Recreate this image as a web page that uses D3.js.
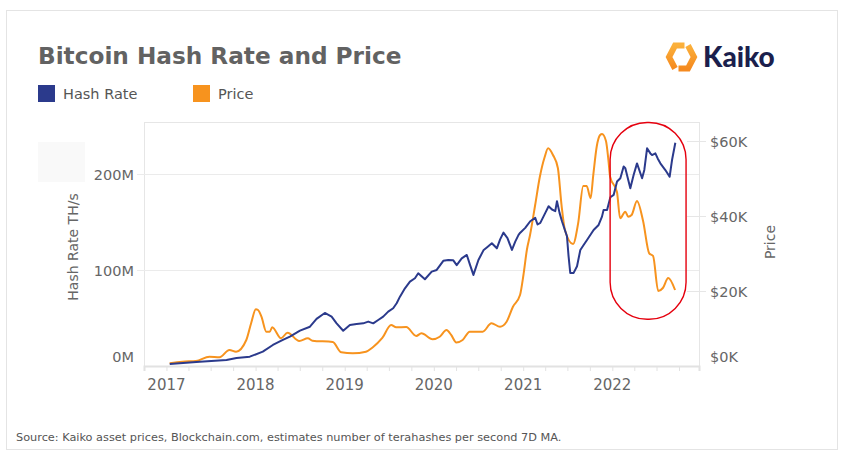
<!DOCTYPE html>
<html>
<head>
<meta charset="utf-8">
<script src="https://cdn.jsdelivr.net/npm/d3@7"></script>
<style>
  html, body { margin: 0; padding: 0; background: #fff; }
  svg { display: block; font-family: "DejaVu Sans", sans-serif; }
</style>
</head>
<body>
<svg id="chart" width="847" height="461"></svg>
<script>
// ---------- data ----------
// hash rate: [decimal year, millions of TH/s (7D MA)]
const hashRate = [
  [2017.037, 2.1], [2017.374, 4.5], [2017.674, 6.3], [2017.786, 8.3], [2017.935, 9.7],
  [2018.081, 14.9], [2018.194, 21.9], [2018.306, 27.1], [2018.385, 30.5], [2018.498, 36.8],
  [2018.610, 40.9], [2018.684, 49.0], [2018.777, 55.2], [2018.853, 51.4], [2018.909, 44.4],
  [2018.983, 36.7], [2019.058, 42.7], [2019.133, 43.7], [2019.208, 44.4], [2019.264, 46.2],
  [2019.320, 44.4], [2019.376, 47.9], [2019.432, 51.4], [2019.488, 56.6], [2019.544, 60.1],
  [2019.583, 65.3], [2019.620, 72.2], [2019.676, 80.9], [2019.732, 87.8], [2019.788, 91.3],
  [2019.825, 96.5], [2019.900, 90.3], [2019.976, 98.2], [2020.032, 100.0], [2020.106, 109.5],
  [2020.162, 110.3], [2020.218, 110.0], [2020.256, 105.0], [2020.312, 112.1], [2020.369, 115.6],
  [2020.406, 105.0], [2020.443, 94.8], [2020.499, 110.3], [2020.555, 120.4], [2020.593, 123.3],
  [2020.649, 127.7], [2020.705, 122.5], [2020.742, 131.8], [2020.779, 138.8], [2020.824, 133.2],
  [2020.874, 120.8], [2020.911, 129.5], [2020.948, 136.5], [2020.967, 138.8], [2021.023, 143.8],
  [2021.079, 150.7], [2021.135, 154.2], [2021.161, 147.3], [2021.192, 149.0], [2021.248, 159.4],
  [2021.285, 166.3], [2021.323, 162.9], [2021.360, 161.2], [2021.379, 171.6], [2021.408, 159.4],
  [2021.435, 150.7], [2021.491, 135.1], [2021.509, 114.3], [2021.528, 96.9], [2021.566, 96.9],
  [2021.604, 103.8], [2021.641, 120.8], [2021.678, 126.0], [2021.716, 131.2], [2021.753, 136.4],
  [2021.790, 141.6], [2021.846, 146.8], [2021.884, 155.5], [2021.902, 162.5], [2021.941, 162.5],
  [2021.978, 175.7], [2022.015, 178.1], [2022.053, 192.0], [2022.090, 195.4], [2022.127, 207.6],
  [2022.146, 205.8], [2022.202, 185.0], [2022.239, 198.9], [2022.277, 210.9], [2022.334, 195.4],
  [2022.359, 204.1], [2022.390, 226.6], [2022.427, 221.3], [2022.446, 219.6], [2022.483, 221.3],
  [2022.509, 216.1], [2022.539, 211.0], [2022.595, 204.0], [2022.643, 197.0], [2022.670, 214.4],
  [2022.707, 232.4]
];

// price: [date, BTC price in USD (7D MA)]
const price = [
  ["2017-01-14", 720], ["2017-03-07", 1150], ["2017-05-02", 1330], ["2017-06-26", 2480],
  ["2017-08-06", 2320], ["2017-09-16", 4270], ["2017-10-13", 3810], ["2017-11-24", 6930],
  ["2017-12-14", 11470], ["2018-01-02", 15120], ["2018-01-11", 14930], ["2018-01-25", 13150],
  ["2018-02-14", 9150], ["2018-02-28", 9150], ["2018-03-10", 10320], ["2018-04-15", 7390],
  ["2018-05-12", 8880], ["2018-06-29", 6670], ["2018-08-03", 7390], ["2018-08-22", 6750],
  ["2018-11-13", 6400], ["2018-12-18", 3650], ["2019-02-03", 3390], ["2019-03-29", 3810],
  ["2019-04-24", 4880], ["2019-06-04", 7470], ["2019-07-10", 10930], ["2019-07-31", 10320],
  ["2019-09-10", 10400], ["2019-10-21", 8000], ["2019-11-11", 8720], ["2019-12-27", 7120],
  ["2020-01-25", 7810], ["2020-02-22", 9600], ["2020-03-12", 8270], ["2020-04-02", 6270],
  ["2020-04-28", 6930], ["2020-05-27", 9150], ["2020-07-19", 9150], ["2020-08-24", 11390],
  ["2020-09-28", 10480], ["2020-10-25", 11810], ["2020-11-20", 15810], ["2020-12-19", 18930],
  ["2021-01-02", 24270], ["2021-01-16", 30930], ["2021-01-29", 34930], ["2021-02-19", 42930],
  ["2021-03-10", 50400], ["2021-03-30", 55730], ["2021-04-13", 58050], ["2021-05-03", 56270],
  ["2021-05-23", 52800], ["2021-06-07", 42930], ["2021-06-21", 36270], ["2021-07-24", 32530],
  ["2021-08-14", 38050], ["2021-09-04", 48000], ["2021-09-18", 48000], ["2021-10-04", 44720],
  ["2021-10-15", 50930], ["2021-10-29", 58480], ["2021-11-12", 61600], ["2021-11-20", 61870],
  ["2021-12-06", 60000], ["2021-12-16", 54930], ["2021-12-23", 50480], ["2022-01-20", 46400],
  ["2022-02-02", 39390], ["2022-02-23", 41150], ["2022-03-07", 39810], ["2022-03-21", 40270],
  ["2022-04-12", 44000], ["2022-05-07", 38670], ["2022-06-01", 30050], ["2022-06-17", 29330],
  ["2022-07-08", 20000], ["2022-07-27", 20800], ["2022-08-18", 23470], ["2022-09-15", 20270]
];

const yearTicks = [2017, 2018, 2019, 2020, 2021, 2022];
const hashTicks = [0, 100, 200];          // millions TH/s
const hashTickLabels = ["0M", "100M", "200M"];
const priceTicks = [0, 20000, 40000, 60000];
const priceTickLabels = ["$0K", "$20K", "$40K", "$60K"];
const seriesNames = ["Hash Rate", "Price"];
const seriesColors = ["#2b3a8c", "#f7931e"];
const highlightWindow = ["2021-12-23", "2022-10-30"]; // red annotation (date span)
const highlightPriceFloor = 12450;

// ---------- helpers ----------
const parse = d3.timeParse("%Y-%m-%d");
function fromDecimalYear(v) {
  const yr = Math.floor(v);
  const s = new Date(yr, 0, 1).getTime(), e = new Date(yr + 1, 0, 1).getTime();
  return new Date(s + (v - yr) * (e - s));
}

// ---------- layout ----------
const svg = d3.select("#chart");
const plot = { left: 144, right: 699, top: 122, bottom: 366 };

const x = d3.scaleTime()
  .domain([parse("2016-10-01"), parse("2022-12-22")])
  .range([plot.left, plot.right]);
const yHash = d3.scaleLinear().domain([0, 254]).range([plot.bottom, plot.top]);
const yPrice = d3.scaleLinear().domain([0, 65070]).range([plot.bottom, plot.top]);

// outer card
svg.append("rect").attr("x", 6.5).attr("y", 10.5).attr("width", 831).attr("height", 439)
  .attr("fill", "#fff").attr("stroke", "#e4e4e4").attr("stroke-width", 1);

// title
svg.append("text").attr("x", 38).attr("y", 64)
  .attr("font-size", 23.2).attr("font-weight", "bold").attr("fill", "#626262")
  .text("Bitcoin Hash Rate and Price");

// legend
const legendX = [38, 193];
seriesNames.forEach((n, i) => {
  svg.append("rect").attr("x", legendX[i]).attr("y", 85).attr("width", 17).attr("height", 17)
    .attr("fill", seriesColors[i]);
  svg.append("text").attr("x", legendX[i] + 25).attr("y", 99)
    .attr("font-size", 14.5).attr("fill", "#555").text(n);
});

// logo
const defs = svg.append("defs");
const grad = defs.append("linearGradient").attr("id", "kg").attr("x1", "0").attr("y1", "0").attr("x2", "0").attr("y2", "1");
grad.append("stop").attr("offset", "0%").attr("stop-color", "#fbb03b");
grad.append("stop").attr("offset", "100%").attr("stop-color", "#f58a1f");
const logo = svg.append("g").attr("transform", "translate(681.5,57)");
logo.append("path").attr("d", "M3,-11.5 L-6.5,-11.5 L-12.5,0 L-6.5,11.5")
  .attr("fill", "none").attr("stroke", "url(#kg)").attr("stroke-width", 6).attr("stroke-linejoin", "miter");
logo.append("path").attr("d", "M-3,11.5 L6.5,11.5 L12.5,0 L6.5,-11.5")
  .attr("fill", "none").attr("stroke", "url(#kg)").attr("stroke-width", 6).attr("stroke-linejoin", "miter");
svg.append("text").attr("x", 703).attr("y", 67)
  .attr("font-family", "Lato, sans-serif").attr("font-weight", 900).attr("font-size", 28)
  .attr("fill", "#1b1f4d").text("Kaiko");

// faint artifact block
svg.append("rect").attr("x", 38).attr("y", 142).attr("width", 47).attr("height", 40).attr("fill", "#f9f9f9");

// plot frame
svg.append("rect").attr("x", plot.left + 0.5).attr("y", plot.top + 0.5)
  .attr("width", plot.right - plot.left).attr("height", plot.bottom - plot.top)
  .attr("fill", "none").attr("stroke", "#e6e6e6");

// left grid + ticks
const gLeft = svg.append("g");
hashTicks.forEach((t, i) => {
  const yy = Math.round(yHash(t)) + 0.5;
  if (t > 0) {
    gLeft.append("line").attr("x1", plot.left - 7).attr("x2", plot.right).attr("y1", yy).attr("y2", yy)
      .attr("stroke", "#ebebeb");
  }
  gLeft.append("text").attr("x", 134).attr("y", t === 0 ? yy - 10 : yy)
    .attr("dy", "0.35em").attr("text-anchor", "end")
    .attr("font-size", 14.5).attr("fill", "#666").text(hashTickLabels[i]);
});

// right ticks
const gRight = svg.append("g");
priceTicks.forEach((t, i) => {
  const yy = Math.round(yPrice(t)) + 0.5;
  if (t > 0) {
    gRight.append("line").attr("x1", plot.right - 12).attr("x2", plot.right + 7).attr("y1", yy).attr("y2", yy)
      .attr("stroke", "#e6e6e6");
  }
  gRight.append("text").attr("x", 710).attr("y", t === 0 ? yy - 10 : yy)
    .attr("dy", "0.35em").attr("font-size", 14.5).attr("fill", "#666").text(priceTickLabels[i]);
});

// axis titles
svg.append("text").attr("transform", "translate(78,247) rotate(-90)")
  .attr("text-anchor", "middle").attr("font-size", 14).attr("fill", "#666").text("Hash Rate TH/s");
svg.append("text").attr("transform", "translate(775,242) rotate(-90)")
  .attr("text-anchor", "middle").attr("font-size", 14).attr("fill", "#666").text("Price");

// bottom axis
const xAxis = d3.axisBottom(x)
  .tickValues(d3.timeMonth.every(3).range(x.domain()[0], x.domain()[1]))
  .tickSize(5).tickFormat("");
const gx = svg.append("g").attr("transform", `translate(0,${plot.bottom})`).call(xAxis);
gx.select(".domain").attr("stroke", "#e2e2e2").attr("stroke-width", 2);
gx.selectAll(".tick line").attr("stroke", "#e2e2e2");
yearTicks.forEach(yr => {
  svg.append("text").attr("x", x(new Date(yr, 0, 1))).attr("y", 390)
    .attr("text-anchor", "middle").attr("font-size", 15).attr("fill", "#666").text(yr);
});

// lines
const hashLine = d3.line().x(d => x(fromDecimalYear(d[0]))).y(d => yHash(d[1]));
const priceLine = d3.line().x(d => x(parse(d[0]))).y(d => yPrice(d[1])).curve(d3.curveMonotoneX);
svg.append("path").datum(price).attr("d", priceLine)
  .attr("fill", "none").attr("stroke", seriesColors[1]).attr("stroke-width", 2).attr("stroke-linejoin", "round");
svg.append("path").datum(hashRate).attr("d", hashLine)
  .attr("fill", "none").attr("stroke", seriesColors[0]).attr("stroke-width", 2).attr("stroke-linejoin", "round");

// annotation
const ax0 = x(parse(highlightWindow[0])), ax1 = x(parse(highlightWindow[1]));
const ay0 = plot.top + 0.5, ay1 = yPrice(highlightPriceFloor);
svg.append("rect").attr("x", ax0).attr("y", ay0).attr("width", ax1 - ax0).attr("height", ay1 - ay0)
  .attr("rx", 37).attr("ry", 37).attr("fill", "none").attr("stroke", "#e5000e").attr("stroke-width", 1.4);

// source
svg.append("text").attr("x", 16).attr("y", 441).attr("font-size", 11.3).attr("fill", "#555")
  .text("Source: Kaiko asset prices, Blockchain.com, estimates number of terahashes per second 7D MA.");
</script>
</body>
</html>
